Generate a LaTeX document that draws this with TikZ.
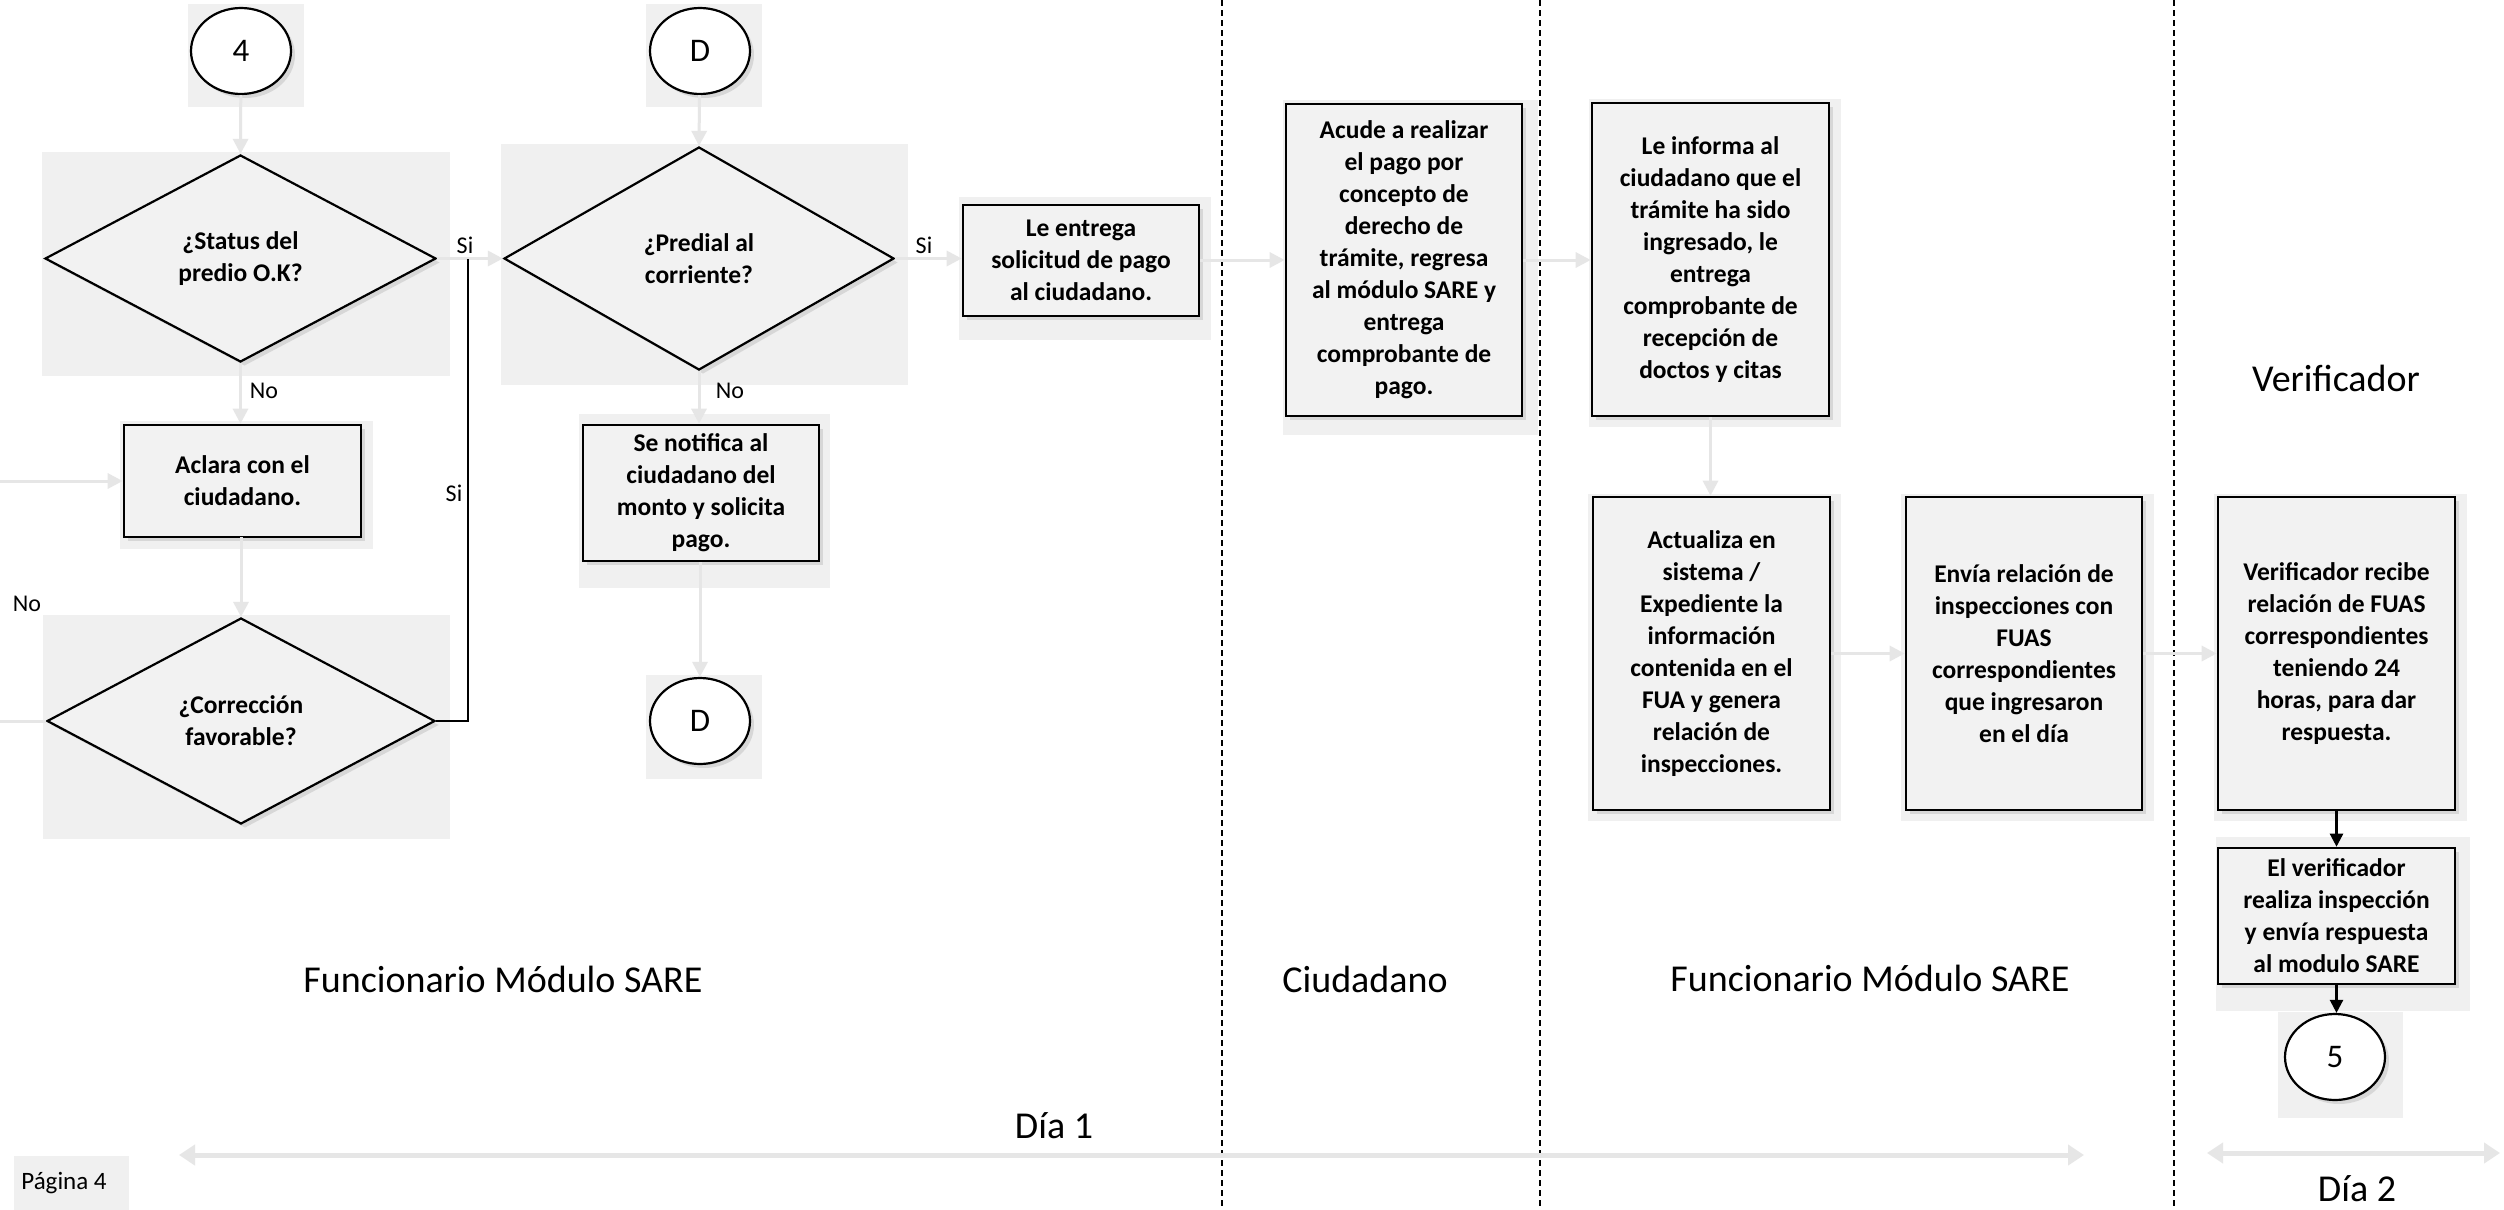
\documentclass[tikz,border=0pt]{standalone}
\usepackage{fontspec}
\setmainfont{Carlito}
\usetikzlibrary{shapes.geometric,arrows.meta,shadows}
\definecolor{bgg}{HTML}{F0F0F0}
\definecolor{boxg}{HTML}{F2F2F2}
\definecolor{cong}{HTML}{E6E6E6}
\newcommand{\boxfont}{\bfseries\fontsize{25.5}{32}\selectfont}
\newcommand{\lblfont}{\fontsize{24}{28}\selectfont}
\newcommand{\lanefont}{\fontsize{38}{44}\selectfont}
\newcommand{\circfont}{\fontsize{33}{38}\selectfont}
\begin{document}
\begin{tikzpicture}[x=1pt,y=-1pt,
  bgrect/.style={fill=bgg, draw=none},
  shad/.style={drop shadow={opacity=0.22, shadow xshift=4pt, shadow yshift=-4pt}},
  procbox/.style={rectangle, draw=black, line width=2.6pt, fill=boxg, inner sep=0pt,
    align=center, font=\boxfont, shad},
  decis/.style={diamond, draw=black, line width=2.2pt, fill=boxg, inner sep=0pt,
    align=center, font=\boxfont, shad},
  connect/.style={ellipse, draw=black, line width=2.2pt, fill=white, inner sep=0pt,
    minimum width=100pt, minimum height=86pt, font=\circfont, shad},
  lbl/.style={font=\lblfont, inner sep=0pt},
  lane/.style={font=\lanefont, inner sep=0pt},
  conn/.style={draw=cong, line width=3pt, -{Triangle[length=15pt,width=15pt]}},
  grayline/.style={draw=cong, line width=3pt},
  blackline/.style={draw=black, line width=2.4pt},
  blackarrow/.style={draw=black, line width=2.4pt, -{Triangle[length=13pt,width=13pt]}},
  dayarrow/.style={draw=cong, line width=5pt, {Triangle[length=16pt,width=20pt]}-{Triangle[length=16pt,width=20pt]}},
  dashlane/.style={draw=black, line width=1.4pt, dash pattern=on 6pt off 4pt}
]
\useasboundingbox (0,0) rectangle (2504,1210);
\fill[white] (0,0) rectangle (2504,1210);

% gray backgrounds
\fill[bgrect] (188,4) rectangle (304,107);
\fill[bgrect] (646,4) rectangle (762,107);
\fill[bgrect] (42,152) rectangle (450,376);
\fill[bgrect] (501,144) rectangle (908,385);
\fill[bgrect] (120,421) rectangle (373,549);
\fill[bgrect] (579,414) rectangle (830,588);
\fill[bgrect] (43,615) rectangle (450,839);
\fill[bgrect] (646,675) rectangle (762,779);
\fill[bgrect] (959,197) rectangle (1211,340);
\fill[bgrect] (1283,100) rectangle (1538,435);
\fill[bgrect] (1589,99) rectangle (1841,427);
\fill[bgrect] (1588,494) rectangle (1841,821);
\fill[bgrect] (1901,494) rectangle (2154,821);
\fill[bgrect] (2214,494) rectangle (2467,821);
\fill[bgrect] (2216,837) rectangle (2470,1011);
\fill[bgrect] (2278,1012) rectangle (2403,1118);
\fill[bgrect] (14,1156) rectangle (129,1210);

% lane separators
\coordinate (s1t) at (1222,0); \coordinate (s1b) at (1222,1210);
\coordinate (s2t) at (1540,0); \coordinate (s2b) at (1540,1210);
\coordinate (s3t) at (2174,0); \coordinate (s3b) at (2174,1210);
\draw[dashlane] (s1t) -- (s1b);
\draw[dashlane] (s2t) -- (s2b);
\draw[dashlane] (s3t) -- (s3b);

% nodes
\node[connect] (c4) at (241,51) {4};
\node[connect] (cD1) at (700,51) {D};
\node[decis, minimum width=391pt, minimum height=207pt] (di1) at (240.5,258.5) {¿Status del\\predio O.K?};
\node[decis, minimum width=390pt, minimum height=223pt] (di2) at (699,258.5) {¿Predial al\\corriente?};
\node[decis, minimum width=388pt, minimum height=206pt] (di3) at (241,721) {¿Corrección\\favorable?};
\node[procbox, minimum width=237pt, minimum height=112pt] (acl) at (242.5,481) {Aclara con el\\ciudadano.};
\node[procbox, minimum width=236pt, minimum height=136pt] (sen) at (701,493) {Se notifica al\\ciudadano del\\monto y solicita\\pago.};
\node[connect] (cD2) at (700,721) {D};
\node[procbox, minimum width=236pt, minimum height=111pt] (lee) at (1081,260.5) {Le entrega\\solicitud de pago\\al ciudadano.};
\node[procbox, minimum width=236pt, minimum height=312pt] (acu) at (1404,260) {Acude a realizar\\el pago por\\concepto de\\derecho de\\trámite, regresa\\al módulo SARE y\\entrega\\comprobante de\\pago.};
\node[procbox, minimum width=237pt, minimum height=313pt] (lei) at (1710.5,259.5) {Le informa al\\ciudadano que el\\trámite ha sido\\ingresado, le\\entrega\\comprobante de\\recepción de\\doctos y citas};
\node[procbox, minimum width=237pt, minimum height=313pt] (act) at (1711.5,653.5) {Actualiza en\\sistema /\\Expediente la\\información\\contenida en el\\FUA y genera\\relación de\\inspecciones.};
\node[procbox, minimum width=236pt, minimum height=313pt] (env) at (2024,653.5) {Envía relación de\\inspecciones con\\FUAS\\correspondientes\\que ingresaron\\en el día};
\node[procbox, minimum width=237pt, minimum height=313pt] (ver) at (2336.5,653.5) {Verificador recibe\\relación de FUAS\\correspondientes\\teniendo 24\\horas, para dar\\respuesta.};
\node[procbox, minimum width=237pt, minimum height=136pt] (elv) at (2336.5,916) {El verificador\\realiza inspección\\y envía respuesta\\al modulo SARE};
\node[connect] (c5) at (2335,1057) {5};

% connectors
\coordinate (lin) at (0,481);
\coordinate (lout) at (0,721);
\coordinate (j1) at (468,259);
\draw[conn] (c4) -- (di1.north);
\draw[conn] (di1.south) -- (di1.south |- acl.north);
\draw[conn] (acl.south) -- (acl.south -| di3.north) -- (di3.north);
\draw[conn] (lin) -- (acl.west);
\draw[grayline] (di3.west) -- (lout);
\draw[conn] (di1.east) -- (di2.west);
\draw[blackline] (di3.east) -| (j1);
\draw[conn] (cD1) -- (di2.north);
\draw[conn] (di2.south) -- (di2.south |- sen.north);
\draw[conn] (sen.south -| cD2.north) -- (cD2.north);
\draw[conn] (di2.east) -- (di2.east -| lee.west);
\draw[conn] (lee.east |- acu.west) -- (acu.west);
\draw[conn] (acu.east) -- (acu.east -| lei.west);
\draw[conn] (lei.south) -- (lei.south |- act.north);
\draw[conn] (act.east) -- (env.west);
\draw[conn] (env.east) -- (ver.west);
\draw[blackarrow] (ver.south) -- (elv.north);
\draw[blackarrow] (elv.south) -- (elv.south |- c5.north);

% day arrows
\coordinate (d1a) at (179,1155); \coordinate (d1b) at (2084,1155);
\coordinate (d2a) at (2207,1153); \coordinate (d2b) at (2500,1153);
\draw[dayarrow] (d1a) -- (d1b);
\draw[dayarrow] (d2a) -- (d2b);

% labels
\node[lbl] (si1) at (465,245) {Si};
\node[lbl] (si2) at (924,245) {Si};
\node[lbl] (no1) at (264,391) {No};
\node[lbl] (no2) at (730,391) {No};
\node[lbl] (si3) at (454,493) {Si};
\node[lbl] (no3) at (27,604) {No};

\node[lane] (lane1) at (503,979) {Funcionario Módulo SARE};
\node[lane] (lane2) at (1365,979) {Ciudadano};
\node[lane] (lane3) at (1870,978) {Funcionario Módulo SARE};
\node[lane] (lane4) at (2336,378) {Verificador};
\node[lane] (dia1) at (1054,1126) {Día 1};
\node[lane] (dia2) at (2357,1189) {Día 2};
\node[font=\fontsize{25}{30}\selectfont, inner sep=0pt] (pag) at (64,1183) {Página 4};
\end{tikzpicture}
\end{document}
